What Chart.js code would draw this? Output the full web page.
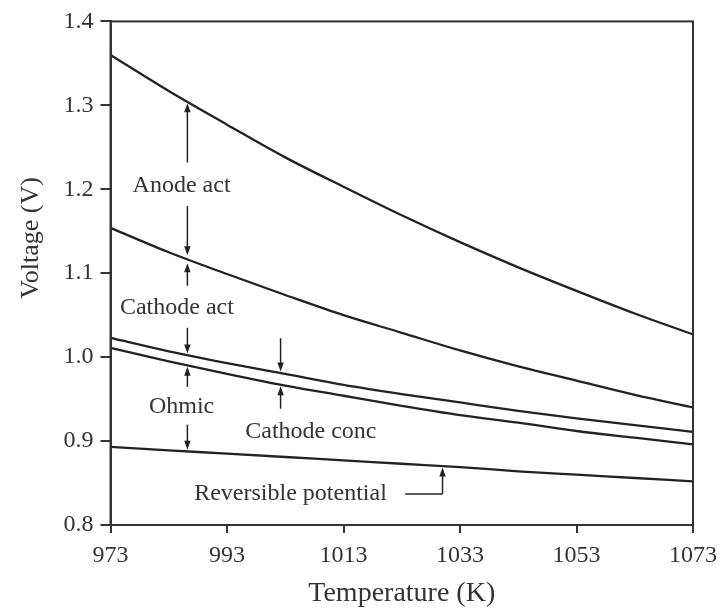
<!DOCTYPE html>
<html>
<head>
<meta charset="utf-8">
<script src="https://cdn.jsdelivr.net/npm/chart.js@4.4.1/dist/chart.umd.min.js"></script>
<style>
  html, body { margin: 0; padding: 0; background: #fff; }
  #wrap { width: 725px; height: 612px; }
</style>
</head>
<body>
<div id="wrap"><canvas id="myChart" width="725" height="612"></canvas></div>
<script>
// temperature (K) and cumulative cell voltage (V)
let temps = [973, 983, 993, 1003, 1013, 1023, 1033, 1043, 1053, 1063, 1073];
let reversibleV  = [0.893, 0.889, 0.885, 0.881, 0.877, 0.873, 0.869, 0.864, 0.860, 0.856, 0.852];
let ohmicV       = [1.011, 0.995, 0.980, 0.966, 0.954, 0.942, 0.931, 0.922, 0.912, 0.904, 0.896];
let cathConcV    = [1.023, 1.007, 0.993, 0.980, 0.967, 0.956, 0.946, 0.936, 0.927, 0.919, 0.911];
let cathActV     = [1.154, 1.125, 1.099, 1.074, 1.050, 1.029, 1.008, 0.989, 0.972, 0.955, 0.940];
let anodeActV    = [1.360, 1.317, 1.277, 1.238, 1.203, 1.169, 1.137, 1.107, 1.079, 1.052, 1.027];

let xTicks = [973, 993, 1013, 1033, 1053, 1073];
let yTicks = [0.8, 0.9, 1.0, 1.1, 1.2, 1.3, 1.4];

const FONT = "'Liberation Serif', 'Times New Roman', serif";
const INK = '#222';

function valueAt(series, t) {
    for (let i = 0; i < temps.length - 1; i++) {
        if (t >= temps[i] && t <= temps[i + 1]) {
            let f = (t - temps[i]) / (temps[i + 1] - temps[i]);
            return series[i] + f * (series[i + 1] - series[i]);
        }
    }
    return series[series.length - 1];
}

// labels and arrows, placed in data units
let notes = [
    { text: 'Anode act', t: 985.2, v: 1.204 },
    { text: 'Cathode act', t: 984.4, v: 1.059 },
    { text: 'Ohmic', t: 985.2, v: 0.941 },
    { text: 'Cathode conc', t: 1007.4, v: 0.911 },
    { text: 'Reversible potential', t: 1003.9, v: 0.837 }
];
let arrows = [
    { t: 986.2, from: 1.232, to: anodeActV },
    { t: 986.2, from: 1.180, to: cathActV, gap: 4 },
    { t: 986.2, from: 1.085, to: cathActV, gap: 4 },
    { t: 986.2, from: 1.035, to: cathConcV },
    { t: 986.2, from: 0.9645, to: ohmicV },
    { t: 986.2, from: 0.9196, to: reversibleV },
    { t: 1002.2, from: 1.0225, to: cathConcV },
    { t: 1002.2, from: 0.9385, to: ohmicV }
];
let elbow = { tStart: 1023.6, tEnd: 1030, v: 0.837, to: reversibleV };
let yTitle = { text: 'Voltage (V)', v: 1.142 };

function drawArrow(ctx, x, y1, y2) {
    let dir = y2 > y1 ? 1 : -1;
    ctx.beginPath();
    ctx.moveTo(x, y1);
    ctx.lineTo(x, y2 - dir * 6);
    ctx.stroke();
    ctx.beginPath();
    ctx.moveTo(x, y2);
    ctx.lineTo(x - 3.2, y2 - dir * 9);
    ctx.lineTo(x + 3.2, y2 - dir * 9);
    ctx.closePath();
    ctx.fill();
}

const notesPlugin = {
    id: 'notes',
    afterDatasetsDraw(chart) {
        let ctx = chart.ctx;
        let xs = chart.scales.x, ys = chart.scales.y;
        ctx.save();
        ctx.strokeStyle = INK;
        ctx.fillStyle = INK;
        ctx.lineWidth = 1.5;
        arrows.forEach(function(a) {
            let x = xs.getPixelForValue(a.t);
            let y1 = ys.getPixelForValue(a.from);
            let yc = ys.getPixelForValue(valueAt(a.to, a.t));
            let dir = yc > y1 ? 1 : -1;
            drawArrow(ctx, x, y1, yc - dir * (a.gap || 1.5));
        });
        // elbow pointer for the reversible potential
        let ex1 = xs.getPixelForValue(elbow.tStart);
        let ex2 = xs.getPixelForValue(elbow.tEnd);
        let ey = ys.getPixelForValue(elbow.v);
        ctx.beginPath();
        ctx.moveTo(ex1, ey);
        ctx.lineTo(ex2, ey);
        ctx.stroke();
        drawArrow(ctx, ex2, ey, ys.getPixelForValue(valueAt(elbow.to, elbow.tEnd)) + 1.5);

        ctx.font = '24px ' + FONT;
        ctx.fillStyle = '#333';
        ctx.textAlign = 'center';
        ctx.textBaseline = 'middle';
        notes.forEach(function(n) {
            ctx.fillText(n.text, xs.getPixelForValue(n.t), ys.getPixelForValue(n.v));
        });
        ctx.restore();
    },
    afterDraw(chart) {
        // closed frame round the plot
        let a = chart.chartArea;
        let ctx = chart.ctx;
        ctx.save();
        ctx.strokeStyle = '#333';
        ctx.lineWidth = 2;
        ctx.strokeRect(a.left, a.top, a.right - a.left, a.bottom - a.top);

        // y title sits a bit above the middle of the axis in the original
        ctx.translate(31, chart.scales.y.getPixelForValue(yTitle.v));
        ctx.rotate(-Math.PI / 2);
        ctx.font = '26px ' + FONT;
        ctx.fillStyle = '#333';
        ctx.textAlign = 'center';
        ctx.textBaseline = 'middle';
        ctx.fillText(yTitle.text, 0, 0);
        ctx.restore();
    }
};

function line(values) {
    return {
        data: temps.map(function(t, i) { return { x: t, y: values[i] }; }),
        borderColor: INK,
        borderWidth: 2.3,
        pointRadius: 0,
        fill: false,
        cubicInterpolationMode: 'monotone'
    };
}

new Chart(document.getElementById('myChart'), {
    type: 'line',
    data: {
        datasets: [line(anodeActV), line(cathActV), line(cathConcV), line(ohmicV), line(reversibleV)]
    },
    options: {
        responsive: false,
        animation: false,
        layout: { padding: { top: 15, right: 31, left: 0, bottom: 0 } },
        plugins: { legend: { display: false }, tooltip: { enabled: false } },
        scales: {
            x: {
                type: 'linear',
                min: 973,
                max: 1073,
                afterBuildTicks: function(scale) {
                    scale.ticks = xTicks.map(function(v) { return { value: v }; });
                },
                afterFit: function(scale) { scale.height = 87; },
                border: { display: true, color: '#333', width: 2 },
                grid: { drawOnChartArea: false, drawTicks: true, tickLength: 8, color: '#333', lineWidth: 2 },
                ticks: {
                    padding: 8,
                    color: '#333',
                    font: { family: FONT, size: 24 },
                    maxRotation: 0,
                    callback: function(v) { return String(v); }
                },
                title: {
                    display: true,
                    text: 'Temperature (K)',
                    color: '#333',
                    font: { family: FONT, size: 28 },
                    padding: { top: 0, bottom: 2 }
                }
            },
            y: {
                type: 'linear',
                min: 0.8,
                max: 1.4,
                afterBuildTicks: function(scale) {
                    scale.ticks = yTicks.map(function(v) { return { value: v }; });
                },
                afterFit: function(scale) { scale.width = 110.5; },
                border: { display: true, color: '#333', width: 2 },
                grid: { drawOnChartArea: false, drawTicks: true, tickLength: 10, color: '#333', lineWidth: 2 },
                ticks: {
                    padding: 7,
                    color: '#333',
                    font: { family: FONT, size: 24 },
                    callback: function(v) { return v.toFixed(1); }
                }
            }
        }
    },
    plugins: [notesPlugin]
});
</script>
</body>
</html>
